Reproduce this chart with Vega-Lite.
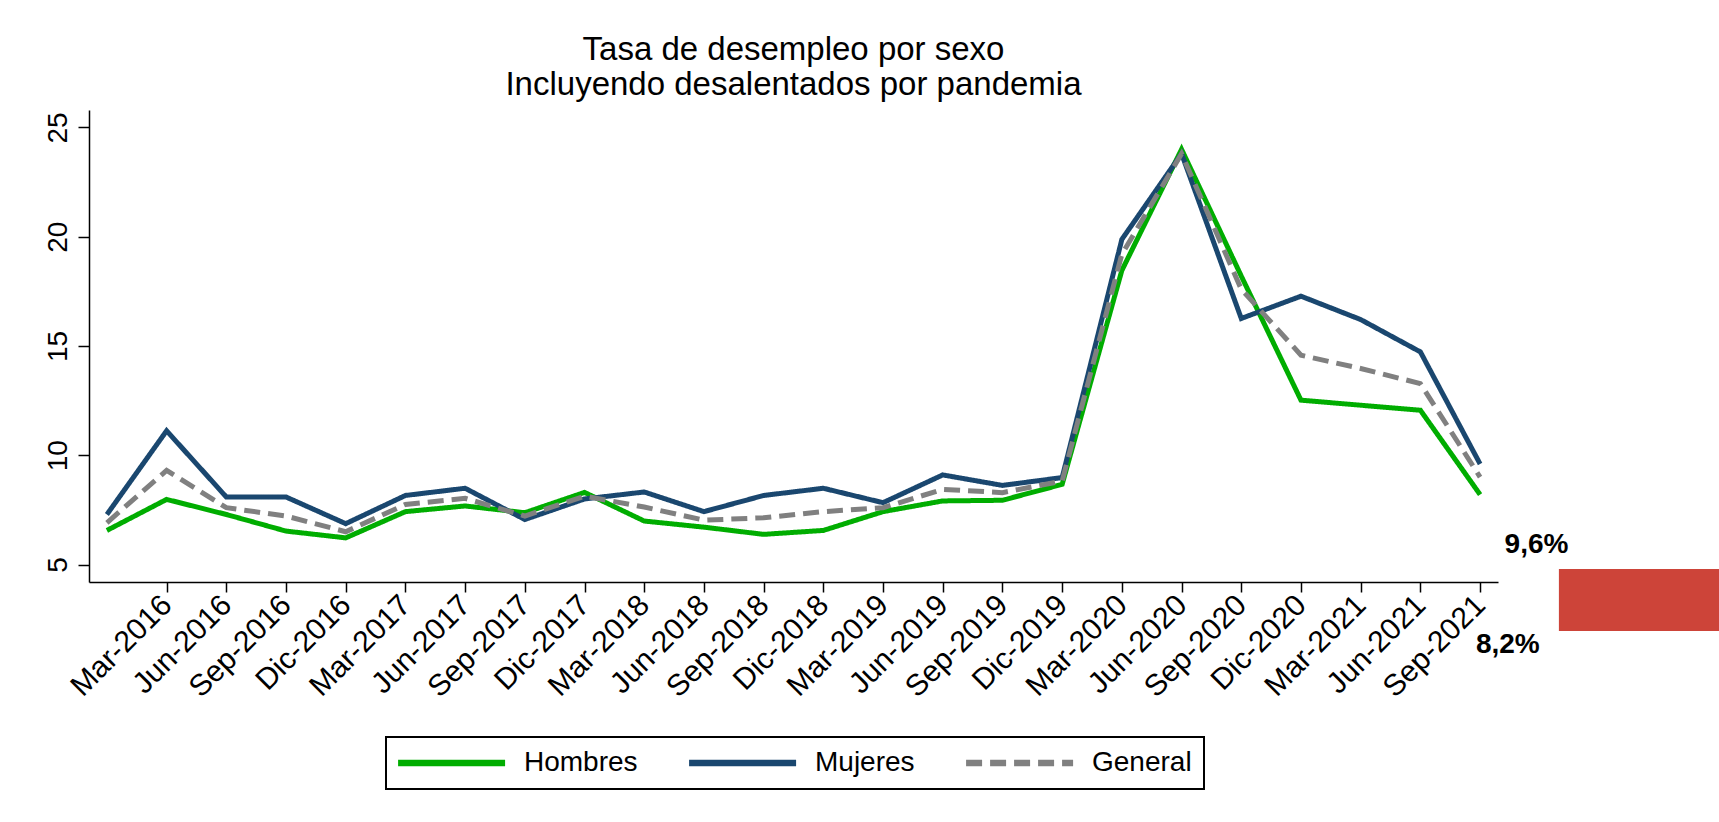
{
  "$schema": "https://vega.github.io/schema/vega-lite/v6.json",
  "width": 1409,
  "height": 472,
  "autosize": {"type": "none"},
  "padding": {"left": 89, "top": 110, "right": 221, "bottom": 240},
  "background": "white",
  "config": {
    "view": {"stroke": null},
    "font": "Liberation Sans",
    "legend": {"strokeWidth": 2}
  },
  "title": {
    "text": ["Tasa de desempleo por sexo", "Incluyendo desalentados por pandemia"],
    "fontSize": 33,
    "fontWeight": "normal",
    "font": "Liberation Sans",
    "color": "black",
    "anchor": "middle",
    "frame": "group",
    "lineHeight": 35,
    "baseline": "alphabetic",
    "offset": -18
  },
  "datasets": {
    "series": [
      {"t": 0, "periodo": "Dic-2015", "serie": "Hombres", "tasa": 6.56},
      {"t": 1, "periodo": "Mar-2016", "serie": "Hombres", "tasa": 7.98},
      {"t": 2, "periodo": "Jun-2016", "serie": "Hombres", "tasa": 7.29},
      {"t": 3, "periodo": "Sep-2016", "serie": "Hombres", "tasa": 6.53},
      {"t": 4, "periodo": "Dic-2016", "serie": "Hombres", "tasa": 6.22},
      {"t": 5, "periodo": "Mar-2017", "serie": "Hombres", "tasa": 7.42},
      {"t": 6, "periodo": "Jun-2017", "serie": "Hombres", "tasa": 7.68},
      {"t": 7, "periodo": "Sep-2017", "serie": "Hombres", "tasa": 7.37},
      {"t": 8, "periodo": "Dic-2017", "serie": "Hombres", "tasa": 8.3},
      {"t": 9, "periodo": "Mar-2018", "serie": "Hombres", "tasa": 6.99},
      {"t": 10, "periodo": "Jun-2018", "serie": "Hombres", "tasa": 6.71},
      {"t": 11, "periodo": "Sep-2018", "serie": "Hombres", "tasa": 6.38},
      {"t": 12, "periodo": "Dic-2018", "serie": "Hombres", "tasa": 6.56},
      {"t": 13, "periodo": "Mar-2019", "serie": "Hombres", "tasa": 7.42},
      {"t": 14, "periodo": "Jun-2019", "serie": "Hombres", "tasa": 7.91},
      {"t": 15, "periodo": "Sep-2019", "serie": "Hombres", "tasa": 7.94},
      {"t": 16, "periodo": "Dic-2019", "serie": "Hombres", "tasa": 8.67},
      {"t": 17, "periodo": "Mar-2020", "serie": "Hombres", "tasa": 18.46},
      {"t": 18, "periodo": "Jun-2020", "serie": "Hombres", "tasa": 24.0},
      {"t": 19, "periodo": "Sep-2020", "serie": "Hombres", "tasa": 18.2},
      {"t": 20, "periodo": "Dic-2020", "serie": "Hombres", "tasa": 12.52},
      {"t": 21, "periodo": "Mar-2021", "serie": "Hombres", "tasa": 12.29},
      {"t": 22, "periodo": "Jun-2021", "serie": "Hombres", "tasa": 12.06},
      {"t": 23, "periodo": "Sep-2021", "serie": "Hombres", "tasa": 8.2},
      {"t": 0, "periodo": "Dic-2015", "serie": "Mujeres", "tasa": 7.29},
      {"t": 1, "periodo": "Mar-2016", "serie": "Mujeres", "tasa": 11.12},
      {"t": 2, "periodo": "Jun-2016", "serie": "Mujeres", "tasa": 8.09},
      {"t": 3, "periodo": "Sep-2016", "serie": "Mujeres", "tasa": 8.09},
      {"t": 4, "periodo": "Dic-2016", "serie": "Mujeres", "tasa": 6.87},
      {"t": 5, "periodo": "Mar-2017", "serie": "Mujeres", "tasa": 8.16},
      {"t": 6, "periodo": "Jun-2017", "serie": "Mujeres", "tasa": 8.49},
      {"t": 7, "periodo": "Sep-2017", "serie": "Mujeres", "tasa": 7.06},
      {"t": 8, "periodo": "Dic-2017", "serie": "Mujeres", "tasa": 8.0},
      {"t": 9, "periodo": "Mar-2018", "serie": "Mujeres", "tasa": 8.32},
      {"t": 10, "periodo": "Jun-2018", "serie": "Mujeres", "tasa": 7.42},
      {"t": 11, "periodo": "Sep-2018", "serie": "Mujeres", "tasa": 8.16},
      {"t": 12, "periodo": "Dic-2018", "serie": "Mujeres", "tasa": 8.49},
      {"t": 13, "periodo": "Mar-2019", "serie": "Mujeres", "tasa": 7.83},
      {"t": 14, "periodo": "Jun-2019", "serie": "Mujeres", "tasa": 9.1},
      {"t": 15, "periodo": "Sep-2019", "serie": "Mujeres", "tasa": 8.62},
      {"t": 16, "periodo": "Dic-2019", "serie": "Mujeres", "tasa": 8.98},
      {"t": 17, "periodo": "Mar-2020", "serie": "Mujeres", "tasa": 19.88},
      {"t": 18, "periodo": "Jun-2020", "serie": "Mujeres", "tasa": 23.8},
      {"t": 19, "periodo": "Sep-2020", "serie": "Mujeres", "tasa": 16.26},
      {"t": 20, "periodo": "Dic-2020", "serie": "Mujeres", "tasa": 17.28},
      {"t": 21, "periodo": "Mar-2021", "serie": "Mujeres", "tasa": 16.21},
      {"t": 22, "periodo": "Jun-2021", "serie": "Mujeres", "tasa": 14.73},
      {"t": 23, "periodo": "Sep-2021", "serie": "Mujeres", "tasa": 9.6},
      {"t": 0, "periodo": "Dic-2015", "serie": "General", "tasa": 6.91},
      {"t": 1, "periodo": "Mar-2016", "serie": "General", "tasa": 9.31},
      {"t": 2, "periodo": "Jun-2016", "serie": "General", "tasa": 7.6},
      {"t": 3, "periodo": "Sep-2016", "serie": "General", "tasa": 7.22},
      {"t": 4, "periodo": "Dic-2016", "serie": "General", "tasa": 6.5},
      {"t": 5, "periodo": "Mar-2017", "serie": "General", "tasa": 7.75},
      {"t": 6, "periodo": "Jun-2017", "serie": "General", "tasa": 8.03},
      {"t": 7, "periodo": "Sep-2017", "serie": "General", "tasa": 7.22},
      {"t": 8, "periodo": "Dic-2017", "serie": "General", "tasa": 8.13},
      {"t": 9, "periodo": "Mar-2018", "serie": "General", "tasa": 7.63},
      {"t": 10, "periodo": "Jun-2018", "serie": "General", "tasa": 7.03},
      {"t": 11, "periodo": "Sep-2018", "serie": "General", "tasa": 7.14},
      {"t": 12, "periodo": "Dic-2018", "serie": "General", "tasa": 7.42},
      {"t": 13, "periodo": "Mar-2019", "serie": "General", "tasa": 7.6},
      {"t": 14, "periodo": "Jun-2019", "serie": "General", "tasa": 8.44},
      {"t": 15, "periodo": "Sep-2019", "serie": "General", "tasa": 8.29},
      {"t": 16, "periodo": "Dic-2019", "serie": "General", "tasa": 8.82},
      {"t": 17, "periodo": "Mar-2020", "serie": "General", "tasa": 19.2},
      {"t": 18, "periodo": "Jun-2020", "serie": "General", "tasa": 23.8},
      {"t": 19, "periodo": "Sep-2020", "serie": "General", "tasa": 17.6},
      {"t": 20, "periodo": "Dic-2020", "serie": "General", "tasa": 14.58},
      {"t": 21, "periodo": "Mar-2021", "serie": "General", "tasa": 13.97},
      {"t": 22, "periodo": "Jun-2021", "serie": "General", "tasa": 13.28},
      {"t": 23, "periodo": "Sep-2021", "serie": "General", "tasa": 9.0}
    ],
    "notas": [
      {"etiqueta": "9,6%", "x": 23.41, "y": 5.53},
      {"etiqueta": "8,2%", "x": 22.93, "y": 0.95}
    ],
    "caja": [
      {"x1": 24.32, "x2": 27.5, "y1": 1.96, "y2": 4.79}
    ]
  },
  "layer": [
    {
      "data": {"name": "series"},
      "mark": {"type": "line", "strokeWidth": 5, "strokeCap": "butt", "strokeJoin": "miter"},
      "encoding": {
        "x": {
          "field": "t",
          "type": "quantitative",
          "scale": {"domain": [-0.3, 23.3], "nice": false, "zero": false},
          "axis": {
            "values": [1, 2, 3, 4, 5, 6, 7, 8, 9, 10, 11, 12, 13, 14, 15, 16, 17, 18, 19, 20, 21, 22, 23],
            "labelExpr": "['Dic-2015','Mar-2016','Jun-2016','Sep-2016','Dic-2016','Mar-2017','Jun-2017','Sep-2017','Dic-2017','Mar-2018','Jun-2018','Sep-2018','Dic-2018','Mar-2019','Jun-2019','Sep-2019','Dic-2019','Mar-2020','Jun-2020','Sep-2020','Dic-2020','Mar-2021','Jun-2021','Sep-2021'][datum.value]",
            "labelAngle": -45,
            "labelAlign": "right",
            "labelBaseline": "middle",
            "labelFontSize": 30,
            "labelFont": "Liberation Sans",
            "labelColor": "black",
            "labelPadding": 8,
            "labelOverlap": false,
            "labelFlush": false,
            "labelBound": false,
            "tickSize": 10,
            "tickColor": "black",
            "tickWidth": 1.5,
            "domainColor": "black",
            "domainWidth": 1.5,
            "grid": false,
            "title": null
          }
        },
        "y": {
          "field": "tasa",
          "type": "quantitative",
          "scale": {"domain": [4.2, 25.8], "nice": false, "zero": false},
          "axis": {
            "values": [5, 10, 15, 20, 25],
            "labelAngle": -90,
            "labelAlign": "center",
            "labelBaseline": "alphabetic",
            "labelFontSize": 28,
            "labelFont": "Liberation Sans",
            "labelColor": "black",
            "labelPadding": 12,
            "labelOverlap": false,
            "labelFlush": false,
            "tickSize": 11,
            "tickColor": "black",
            "tickWidth": 1.5,
            "domainColor": "black",
            "domainWidth": 1.5,
            "grid": false,
            "title": null
          }
        },
        "color": {
          "field": "serie",
          "type": "nominal",
          "scale": {"domain": ["Hombres", "Mujeres", "General"], "range": ["#00AD00", "#1A476F", "#808080"]},
          "legend": {
            "title": null,
            "orient": "none",
            "legendX": 297,
            "legendY": 627,
            "direction": "horizontal",
            "columns": 3,
            "columnPadding": 38,
            "padding": 12,
            "strokeColor": "black",
            "fillColor": "white",
            "symbolType": "M-1.3,0H8.7",
            "symbolSize": 458,
            "symbolStrokeWidth": 6.5,
            "labelFontSize": 28,
            "labelFont": "Liberation Sans",
            "labelColor": "black",
            "labelOffset": 98,
            "labelLimit": 400
          }
        },
        "strokeDash": {
          "field": "serie",
          "type": "nominal",
          "scale": {"domain": ["Hombres", "Mujeres", "General"], "range": [[1, 0], [1, 0], [16, 8]]},
          "legend": {
            "title": null,
            "orient": "none",
            "legendX": 297,
            "legendY": 627,
            "direction": "horizontal",
            "columns": 3,
            "columnPadding": 38,
            "padding": 12,
            "strokeColor": "black",
            "fillColor": "white",
            "symbolType": "M-1.3,0H8.7",
            "symbolSize": 458,
            "symbolStrokeWidth": 6.5,
            "labelFontSize": 28,
            "labelFont": "Liberation Sans",
            "labelColor": "black",
            "labelOffset": 98,
            "labelLimit": 400
          }
        }
      }
    },
    {
      "data": {"name": "caja"},
      "mark": {"type": "rect", "color": "#CD4439"},
      "encoding": {
        "x": {"field": "x1", "type": "quantitative", "scale": {"domain": [-0.3, 23.3], "nice": false, "zero": false}},
        "x2": {"field": "x2"},
        "y": {"field": "y1", "type": "quantitative", "scale": {"domain": [4.2, 25.8], "nice": false, "zero": false}},
        "y2": {"field": "y2"}
      }
    },
    {
      "data": {"name": "notas"},
      "mark": {"type": "text", "fontWeight": "bold", "fontSize": 28, "font": "Liberation Sans", "align": "left", "baseline": "alphabetic", "color": "black"},
      "encoding": {
        "x": {"field": "x", "type": "quantitative", "scale": {"domain": [-0.3, 23.3], "nice": false, "zero": false}},
        "y": {"field": "y", "type": "quantitative", "scale": {"domain": [4.2, 25.8], "nice": false, "zero": false}},
        "text": {"field": "etiqueta"}
      }
    }
  ]
}
